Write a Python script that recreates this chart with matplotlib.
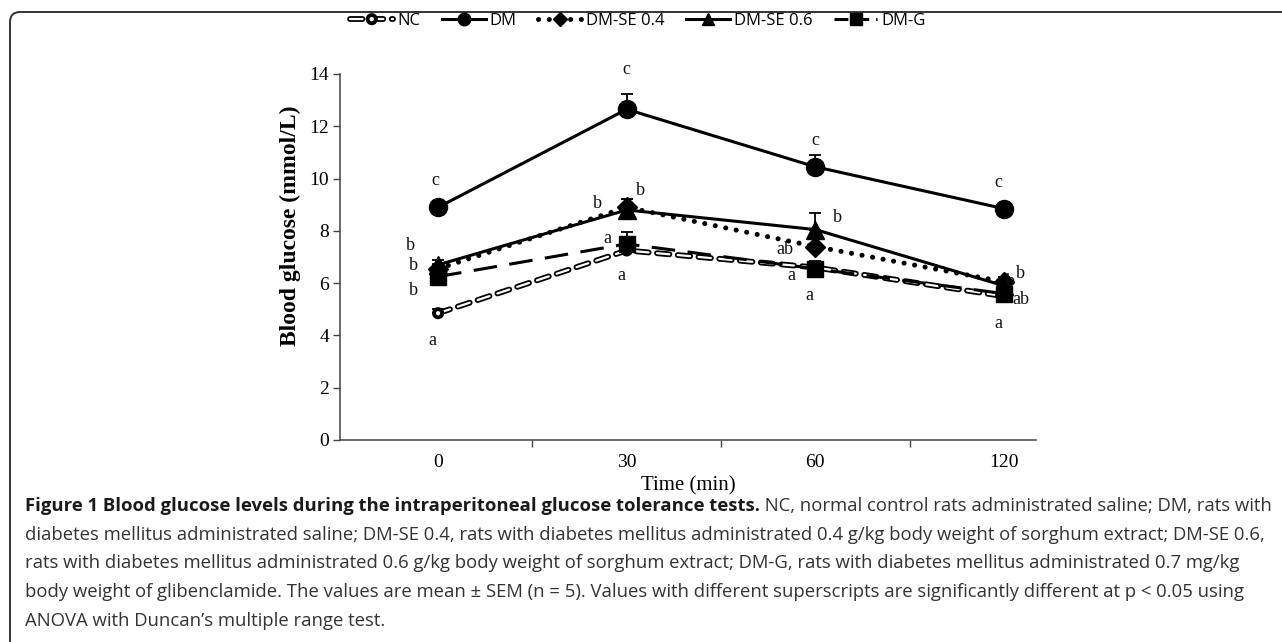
import matplotlib.pyplot as plt
import matplotlib.patheffects as pe
from matplotlib.lines import Line2D
from matplotlib.patches import FancyBboxPatch
from matplotlib.transforms import IdentityTransform
import numpy as np

plt.rcParams['lines.scale_dashes'] = False

# data
times = ['0', '30', '60', '120']
nc = [4.85, 7.25, 6.6, 5.5]
dm = [8.9, 12.65, 10.45, 8.85]
dm_se04 = [6.55, 8.9, 7.4, 6.05]
dm_se06 = [6.7, 8.8, 8.05, 5.9]
dm_g = [6.25, 7.5, 6.55, 5.6]
sem_nc = [0.15, 0.25, 0.2, 0.2]
sem_dm = [0.2, 0.6, 0.45, 0.2]
sem_se04 = [0.2, 0.3, 0.3, 0.2]
sem_se06 = [0.2, 0.4, 0.65, 0.35]
sem_g = [0.2, 0.45, 0.3, 0.2]

# significance letters: (series, time index, letter)
letters = [
    ('DM', 0, 'c'), ('DM-SE 0.6', 0, 'b'), ('DM-SE 0.4', 0, 'b'), ('DM-G', 0, 'b'), ('NC', 0, 'a'),
    ('DM', 1, 'c'), ('DM-SE 0.4', 1, 'b'), ('DM-SE 0.6', 1, 'b'), ('DM-G', 1, 'a'), ('NC', 1, 'a'),
    ('DM', 2, 'c'), ('DM-SE 0.6', 2, 'b'), ('DM-SE 0.4', 2, 'ab'), ('DM-G', 2, 'a'), ('NC', 2, 'a'),
    ('DM', 3, 'c'), ('DM-SE 0.4', 3, 'b'), ('DM-SE 0.6', 3, 'b'), ('DM-G', 3, 'ab'), ('NC', 3, 'a'),
]
# label offsets in points, same order as letters
letter_offsets = [
    (-2, 19), (-20, 14), (-18, 2), (-18, -10), (-4, -20),
    (0, 29), (-21, 3), (10, 14), (-14, 4), (-4, -18),
    (0, 19), (16, 9), (-22, -2), (-17, -5), (-4, -20),
    (-4, 19), (12, 6), (5, 3), (12, -4), (-4, -20),
]

caption_bold = 'Figure 1 Blood glucose levels during the intraperitoneal glucose tolerance tests.'
caption_lines = [
    ' NC, normal control rats administrated saline; DM, rats with',
    'diabetes mellitus administrated saline; DM-SE 0.4, rats with diabetes mellitus administrated 0.4 g/kg body weight of sorghum extract; DM-SE 0.6,',
    'rats with diabetes mellitus administrated 0.6 g/kg body weight of sorghum extract; DM-G, rats with diabetes mellitus administrated 0.7 mg/kg',
    'body weight of glibenclamide. The values are mean \u00b1 SEM (n = 5). Values with different superscripts are significantly different at p < 0.05 using',
    'ANOVA with Duncan\u2019s multiple range test.',
]

W, H = 1282, 642
fig = plt.figure(figsize=(W / 100, H / 100), dpi=100)
ax = fig.add_axes([340 / W, 1 - 440 / H, 696 / W, 366 / H])

x = np.arange(len(times))
serif = 'Liberation Serif'
err_kw = dict(fmt='none', ecolor='black', elinewidth=1.3, capsize=4, capthick=1.3, zorder=2)
nc_fx = [pe.Stroke(linewidth=4.2, foreground='black', capstyle='round'), pe.Normal()]

series = {}
# NC: hollow dashes
ax.plot(x, nc, color='white', lw=1.6, dashes=(9, 6), dash_capstyle='round',
        marker='o', ms=4.5, mfc='white', mec='black', mew=1.4, path_effects=nc_fx, zorder=3)
ax.errorbar(x, nc, yerr=[np.zeros(4), sem_nc], **err_kw)
series['NC'] = nc

ax.errorbar(x, dm, yerr=[np.zeros(4), sem_dm], **err_kw)
ax.plot(x, dm, color='black', lw=2.2, marker='o', ms=13, zorder=4)
series['DM'] = dm

ax.errorbar(x, dm_se04, yerr=[np.zeros(4), sem_se04], **err_kw)
ax.plot(x, dm_se04, color='black', lw=3.6, dashes=(0.1, 7.6), dash_capstyle='round',
        marker='D', ms=10, zorder=4)
series['DM-SE 0.4'] = dm_se04

ax.errorbar(x, dm_se06, yerr=[np.zeros(4), sem_se06], **err_kw)
ax.plot(x, dm_se06, color='black', lw=2.2, marker='^', ms=13, zorder=5)
series['DM-SE 0.6'] = dm_se06

ax.errorbar(x, dm_g, yerr=[np.zeros(4), sem_g], **err_kw)
ax.plot(x, dm_g, color='black', lw=2.2, dashes=(17, 9), marker='s', ms=11, zorder=6)
series['DM-G'] = dm_g

for (name, i, lab), (dx, dy) in zip(letters, letter_offsets):
    ax.annotate(lab, xy=(x[i], series[name][i]), xytext=(dx, dy), textcoords='offset points',
                ha='center', va='center', fontsize=13, family=serif, color='#111', zorder=7,
                annotation_clip=False)

ax.set_xlim(-0.52, 3.17)
ax.set_ylim(0, 14)
ax.set_yticks(np.arange(0, 15, 2))
ax.set_xticks(x)
ax.set_xticklabels(times)
ax.set_xticks([0.5, 1.5, 2.5], minor=True)
ax.tick_params(axis='x', which='major', length=0, pad=10)
ax.tick_params(axis='x', which='minor', length=5, width=1, color='#444')
ax.tick_params(axis='y', length=5, width=1, color='#444', pad=3)
for t in ax.get_xticklabels() + ax.get_yticklabels():
    t.set_fontfamily(serif)
    t.set_fontsize(14)
for s in ['top', 'right']:
    ax.spines[s].set_visible(False)
for s in ['left', 'bottom']:
    ax.spines[s].set_color('#444')
    ax.spines[s].set_linewidth(1.1)

ax.set_ylabel('Blood glucose (mmol/L)', family=serif, fontsize=17, fontweight='bold')
ax.yaxis.set_label_coords(-0.056, 0.586)
ax.set_xlabel('Time (min)', family=serif, fontsize=15, labelpad=4)

# legend
h_nc = Line2D([], [], color='white', lw=1.6, dashes=(9, 6), dash_capstyle='round', marker='o', ms=4.5,
              mfc='white', mec='black', mew=1.4, path_effects=nc_fx)
h_dm = Line2D([], [], color='black', lw=2.2, marker='o', ms=9)
h_04 = Line2D([], [], color='black', lw=3.6, dashes=(0.1, 7.6), dash_capstyle='round', marker='D', ms=7)
h_06 = Line2D([], [], color='black', lw=2.2, marker='^', ms=9)
h_g = Line2D([], [], color='black', lw=2.2, dashes=(10, 5), marker='s', ms=8)
fig.legend([h_nc, h_dm, h_04, h_06, h_g], ['NC', 'DM', 'DM-SE 0.4', 'DM-SE 0.6', 'DM-G'],
           loc='center', bbox_to_anchor=(638 / W, 1 - 21 / H), ncol=5, frameon=False,
           prop={'family': 'Open Sans', 'size': 12}, handlelength=2.6, handletextpad=0.25,
           columnspacing=1.3, numpoints=1)

# frame around figure panel
frame = FancyBboxPatch((10, -40), W + 40, H - 12 + 40, boxstyle='round,pad=0,rounding_size=10',
                       transform=IdentityTransform(), fill=False, ec='#333', lw=1.4, clip_on=False)
fig.patches.append(frame)

# caption
cap_font = {'family': 'Open Sans', 'size': 13.3}
y0 = 1 - 511 / H
tb = fig.text(25 / W, y0, caption_bold, fontweight='bold', color='#1a1a1a', va='baseline', **cap_font)
ax.annotate(caption_lines[0], xy=(1, y0), xycoords=(tb, 'figure fraction'), ha='left', va='baseline',
            color='#333', annotation_clip=False, **cap_font)
for k, line in enumerate(caption_lines[1:], start=1):
    fig.text(25 / W, 1 - (511 + 28.7 * k) / H, line, color='#333', va='baseline', **cap_font)

fig.savefig('out.png', dpi=100)
